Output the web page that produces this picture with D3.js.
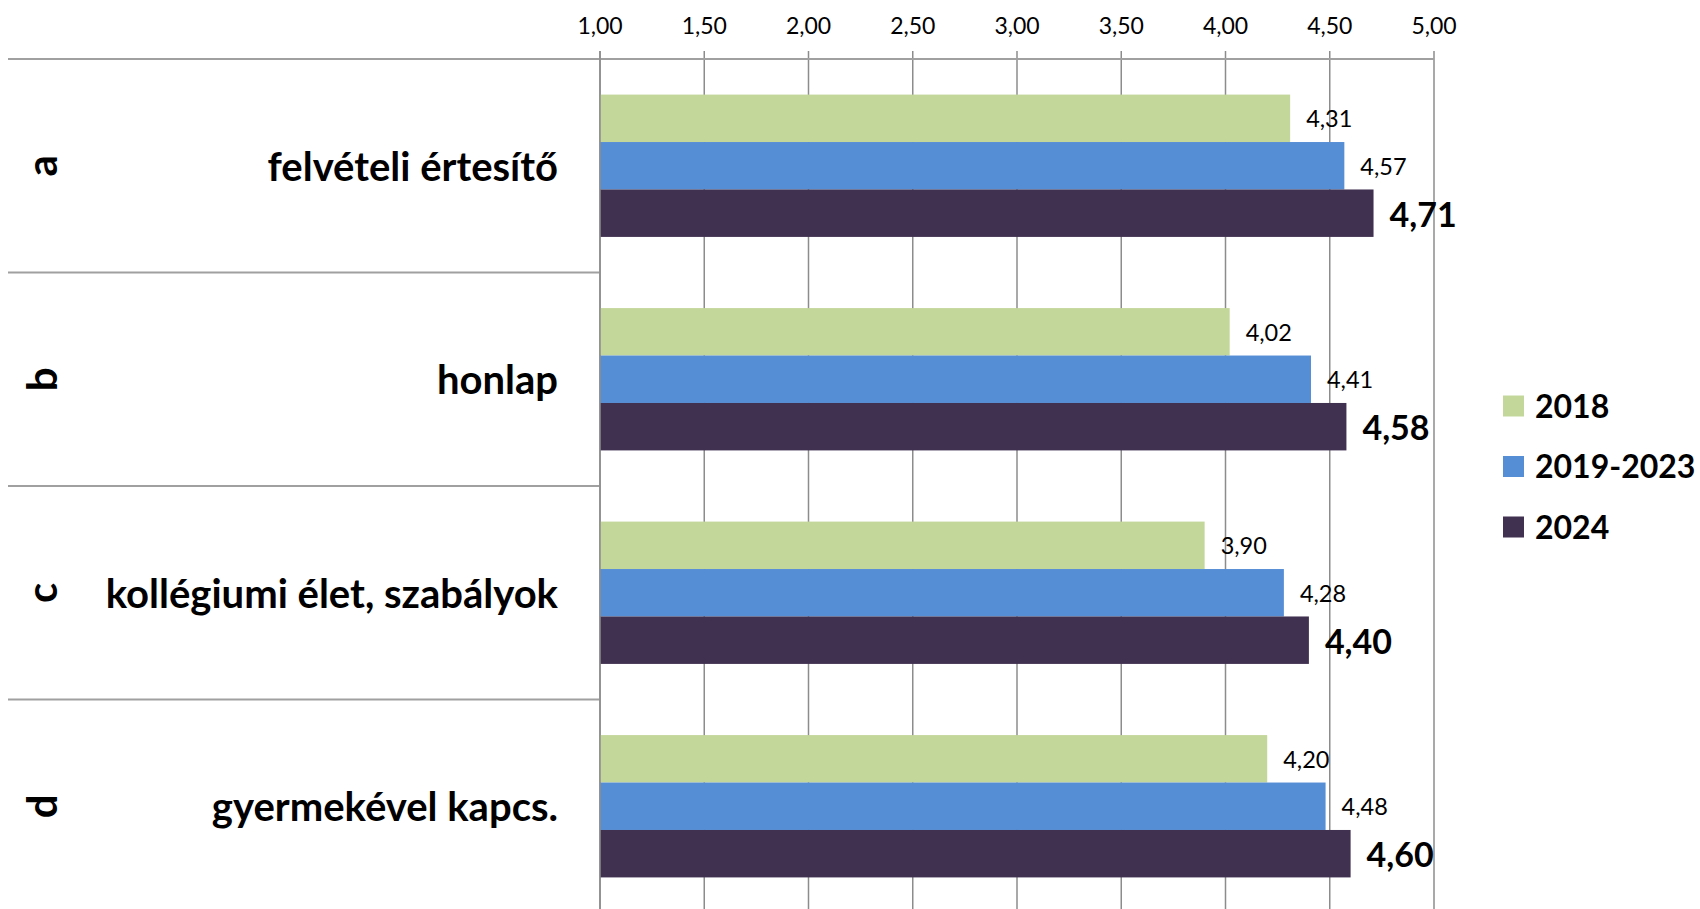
<!DOCTYPE html>
<html><head><meta charset="utf-8">
<script src="https://cdn.jsdelivr.net/npm/d3@7"></script>
<style>
body{margin:0;background:#fff;}
svg{display:block;font-family:Lato, "Open Sans", sans-serif;}
</style></head>
<body><svg id="c" width="1700" height="909"></svg>
<script>
const letters = ["a","b","c","d"];
const categories = ["felvételi értesítő","honlap","kollégiumi élet, szabályok","gyermekével kapcs."];
const seriesNames = ["2018","2019-2023","2024"];
const v2018 = [4.31,4.02,3.90,4.20];
const v2019_2023 = [4.57,4.41,4.28,4.48];
const v2024 = [4.71,4.58,4.40,4.60];
const tickValues = [1.00,1.50,2.00,2.50,3.00,3.50,4.00,4.50,5.00];
const colors = ["#c4d79b","#558ed5","#403151"];

const series = [v2018, v2019_2023, v2024];
const svg = d3.select("#c");
const x = d3.scaleLinear().domain([1,5]).range([600,1434]);
const y = d3.scaleBand().domain(categories).range([59,913]).padding(0);
const ys = d3.scaleBand().domain(seriesNames).range([0,y.bandwidth()]).paddingInner(0).paddingOuter(0.75);
const fmt = v => d3.format(".2f")(v).replace(".",",");
const gridColor = "#8c8c8c";

svg.append("g").selectAll("line").data(tickValues).join("line")
  .attr("x1",d=>x(d)).attr("x2",d=>x(d)).attr("y1",51).attr("y2",909)
  .attr("stroke",gridColor).attr("stroke-width",1.5);

svg.append("line").attr("x1",x(1)).attr("x2",x(5)).attr("y1",59).attr("y2",59)
  .attr("stroke","#a0a0a0").attr("stroke-width",2);

svg.append("g").selectAll("text").data(tickValues).join("text")
  .attr("x",d=>x(d)).attr("y",25).attr("text-anchor","middle").attr("dominant-baseline","central")
  .attr("font-size",23).attr("fill","#000").text(fmt);

const seps = categories.map(c=>y(c));
svg.append("g").selectAll("line").data(seps).join("line")
  .attr("x1",8).attr("x2",x(1)).attr("y1",d=>d).attr("y2",d=>d)
  .attr("stroke","#a0a0a0").attr("stroke-width",2);

const bars = [];
categories.forEach((c,i)=>series.forEach((s,j)=>bars.push({c,i,j,v:s[i]})));
svg.append("g").selectAll("rect").data(bars).join("rect")
  .attr("x",x(1)).attr("y",d=>y(d.c)+ys(seriesNames[d.j]))
  .attr("width",d=>x(d.v)-x(1)).attr("height",ys.bandwidth())
  .attr("fill",d=>colors[d.j]);

svg.append("line").attr("x1",x(1)).attr("x2",x(1)).attr("y1",51).attr("y2",909)
  .attr("stroke",gridColor).attr("stroke-width",1.5);

svg.append("g").selectAll("text").data(bars).join("text")
  .attr("x",d=>x(d.v)+16).attr("y",d=>y(d.c)+ys(seriesNames[d.j])+ys.bandwidth()/2)
  .attr("dominant-baseline","central")
  .attr("font-size",d=>d.j===2?34:23.5).attr("font-weight",d=>d.j===2?700:400)
  .attr("fill","#000").text(d=>fmt(d.v));

svg.append("g").selectAll("text").data(categories).join("text")
  .attr("x",558).attr("y",d=>y(d)+y.bandwidth()/2).attr("text-anchor","end")
  .attr("dominant-baseline","central").attr("font-size",40).attr("font-weight",700)
  .text(d=>d);

svg.append("g").selectAll("text").data(letters).join("text")
  .attr("transform",(d,i)=>`translate(41,${y(categories[i])+y.bandwidth()/2}) rotate(-90)`)
  .attr("text-anchor","middle").attr("dominant-baseline","central")
  .attr("font-size",42).attr("font-weight",700).text(d=>d);

const lg = svg.append("g").selectAll("g").data(seriesNames).join("g")
  .attr("transform",(d,i)=>`translate(1503,${406+i*60.5})`);
lg.append("rect").attr("x",0).attr("y",-10.5).attr("width",21).attr("height",21).attr("fill",(d,i)=>colors[i]);
lg.append("text").attr("x",32).attr("y",-1).attr("dominant-baseline","central")
  .attr("font-size",32).attr("font-weight",700).text(d=>d);
</script></body></html>
